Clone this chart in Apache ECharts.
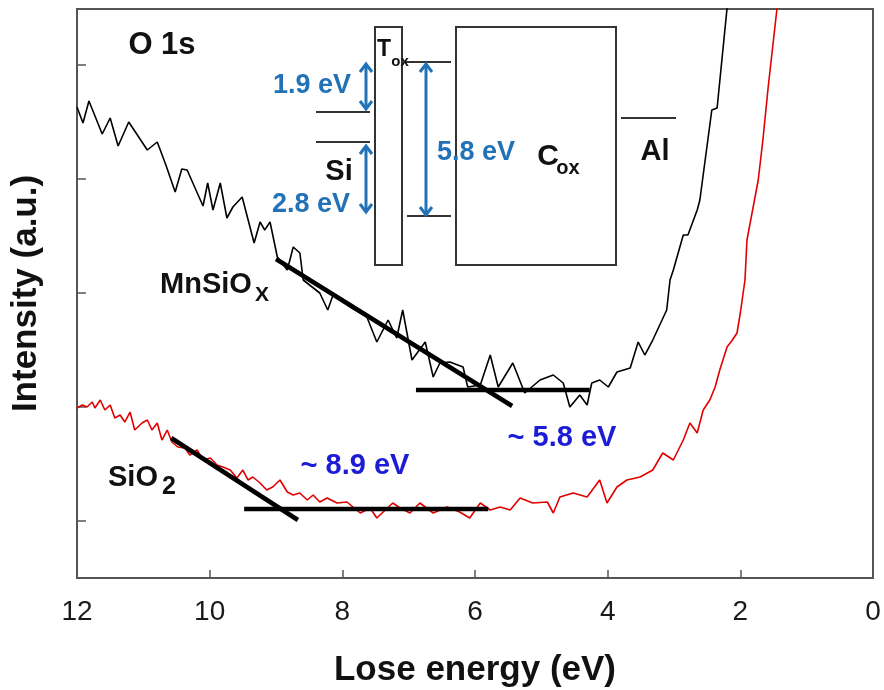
<!DOCTYPE html>
<html lang="en">
<head>
    <meta charset="utf-8">
    <title>O 1s loss spectra</title>
    <script src="https://cdn.jsdelivr.net/npm/echarts@6/dist/echarts.min.js"></script>
    <style>
        html, body { margin: 0; padding: 0; background: #fff; }
        #main { width: 884px; height: 690px; }
    </style>
</head>
<body>
<div id="main"></div>
<script>
    // lose energy (eV) / intensity (a.u.)
    var mnEnergy = [12.00, 11.91, 11.82, 11.62, 11.50, 11.38, 11.22, 10.94, 10.79, 10.66, 10.52, 10.42, 10.34, 10.10,
        10.03, 9.95, 9.84, 9.74, 9.65, 9.51, 9.33, 9.24, 9.17, 9.09, 8.98, 8.83, 8.74, 8.64, 8.59, 8.34, 8.22, 8.14,
        7.88, 7.63, 7.48, 7.31, 7.18, 7.09, 6.95, 6.75, 6.63, 6.53, 6.38, 6.18, 6.11, 5.92, 5.77, 5.65, 5.43, 5.25,
        5.02, 4.82, 4.67, 4.57, 4.42, 4.31, 4.24, 4.12, 3.99, 3.86, 3.66, 3.54, 3.44, 3.32, 3.11, 3.06, 3.01, 2.86,
        2.79, 2.65, 2.61, 2.43, 2.35, 2.17];
    var mnIntensity = [471, 455, 477, 444, 460, 432, 456, 428, 436, 413, 386, 409, 408, 372,
        395, 368, 395, 360, 371, 381, 335, 356, 348, 356, 321, 308, 331, 325, 298, 285, 268, 283,
        271, 261, 236, 258, 240, 268, 218, 236, 201, 215, 216, 211, 191, 193, 223, 191, 215, 185,
        198, 203, 195, 171, 183, 173, 195, 198, 191, 206, 210, 236, 223, 238, 268, 298, 308, 343,
        343, 368, 378, 468, 470, 590];

    var siEnergy = [12.00, 11.92, 11.85, 11.77, 11.73, 11.65, 11.58, 11.50, 11.43, 11.35, 11.28, 11.20, 11.13, 11.02,
        10.94, 10.87, 10.79, 10.72, 10.64, 10.57, 10.48, 10.37, 10.30, 10.19, 10.10, 9.99, 9.89, 9.80, 9.69, 9.59,
        9.50, 9.42, 9.35, 9.24, 9.14, 9.05, 8.94, 8.83, 8.74, 8.64, 8.53, 8.44, 8.34, 8.23, 8.08, 7.93, 7.73, 7.58,
        7.48, 7.24, 7.13, 6.98, 6.83, 6.63, 6.42, 6.23, 6.08, 5.92, 5.77, 5.62, 5.47, 5.32, 5.13, 4.91, 4.82, 4.72,
        4.52, 4.31, 4.12, 4.01, 3.86, 3.71, 3.51, 3.32, 3.17, 3.01, 2.86, 2.76, 2.65, 2.56, 2.46, 2.38, 2.31, 2.20,
        2.12, 2.05, 2.00, 1.93, 1.90, 1.73, 1.66, 1.58, 1.45, 1.42];
    var siIntensity = [170, 173, 171, 176, 170, 178, 168, 173, 160, 163, 156, 166, 148, 155,
        158, 148, 155, 138, 148, 136, 131, 130, 123, 128, 118, 120, 113, 111, 108, 100,
        108, 98, 101, 95, 88, 91, 98, 86, 83, 85, 78, 83, 76, 80, 75, 76, 65, 70,
        60, 75, 70, 65, 75, 65, 71, 66, 60, 75, 68, 71, 68, 80, 75, 76, 65, 81,
        85, 81, 98, 75, 91, 98, 101, 108, 125, 118, 138, 155, 145, 168, 178, 191, 208, 231,
        238, 245, 265, 298, 338, 398, 438, 491, 568, 590];

    // onset construction lines
    var mnSlope = [[9.00, 319], [5.44, 172]];
    var mnBase = [[6.89, 188], [4.27, 188]];
    var siSlope = [[10.58, 140], [8.67, 58]];
    var siBase = [[9.48, 69], [5.80, 69]];

    var yTicks = [57, 171, 285, 399, 513];

    function pairs(xs, ys) {
        var out = [];
        for (var i = 0; i < xs.length; i++) {
            out.push([xs[i], ys[i]]);
        }
        return out;
    }

    var FONT = 'Liberation Sans, Arial, sans-serif';
    var BLUE = '#2272b8';
    var DEEP = '#1c1cd6';

    function txt(s, x, y, size, color) {
        return {
            type: 'text', z: 100,
            style: {
                text: s, x: x, y: y,
                font: 'bold ' + size + 'px ' + FONT,
                fill: color || '#111',
                textAlign: 'center', textVerticalAlign: 'middle',
                align: 'center', verticalAlign: 'middle'
            }
        };
    }

    function seg(x1, y1, x2, y2, color, w) {
        return {
            type: 'line', z: 100,
            shape: {x1: x1, y1: y1, x2: x2, y2: y2},
            style: {stroke: color || '#333', lineWidth: w || 2}
        };
    }

    // vertical double arrow
    function arrow(x, y1, y2) {
        return [
            seg(x, y1 + 1, x, y2 - 1, BLUE, 3),
            {type: 'polyline', z: 100, shape: {points: [[x - 6, y1 + 9], [x, y1 + 1], [x + 6, y1 + 9]]},
                style: {stroke: BLUE, lineWidth: 3, fill: null}},
            {type: 'polyline', z: 100, shape: {points: [[x - 6, y2 - 9], [x, y2 - 1], [x + 6, y2 - 9]]},
                style: {stroke: BLUE, lineWidth: 3, fill: null}}
        ];
    }

    var graphics = [
        txt('O 1s', 162, 45, 31),
        txt('MnSiO', 206, 285, 29),
        txt('X', 262, 295, 21),
        txt('SiO', 133, 478, 29),
        txt('2', 169, 487, 25),
        txt('~ 8.9 eV', 355, 466, 29, DEEP),
        txt('~ 5.8 eV', 562, 438, 29, DEEP),
        // band diagram inset
        {type: 'rect', z: 99, shape: {x: 375, y: 27, width: 27, height: 238},
            style: {stroke: '#333', lineWidth: 2, fill: '#fff'}},
        {type: 'rect', z: 99, shape: {x: 456, y: 27, width: 160, height: 238},
            style: {stroke: '#333', lineWidth: 2, fill: '#fff'}},
        seg(316, 112, 370, 112),
        seg(316, 142, 370, 142),
        seg(406, 62, 451, 62),
        seg(407, 216, 451, 216),
        seg(621, 118, 676, 118),
        txt('T', 384, 50, 23),
        txt('ox', 400, 62, 15),
        txt('Si', 339, 172, 29),
        txt('Al', 655, 152, 29),
        txt('C', 548, 157, 30),
        txt('ox', 568, 168, 20),
        txt('1.9 eV', 312, 86, 27, BLUE),
        txt('2.8 eV', 311, 205, 27, BLUE),
        txt('5.8 eV', 476, 153, 27, BLUE)
    ].concat(arrow(366, 63, 110), arrow(366, 145, 213), arrow(426, 63, 216));

    var myChart = echarts.init(document.getElementById('main'));
    var option = {
        animation: false,
        backgroundColor: '#fff',
        grid: {
            left: 77, right: 11, top: 9, bottom: 112,
            containLabel: false, outerBoundsMode: 'none',
            show: true, borderColor: '#555', borderWidth: 2
        },
        xAxis: {
            type: 'value', inverse: true,
            min: 0, max: 12, interval: 2,
            name: 'Lose energy (eV)',
            nameLocation: 'middle', nameGap: 75,
            nameTextStyle: {fontSize: 35, fontWeight: 'bold', color: '#111', fontFamily: FONT},
            axisLine: {show: true, onZero: false, lineStyle: {color: '#555', width: 2}},
            axisTick: {show: true, inside: true, length: 8, lineStyle: {color: '#555', width: 1.5}},
            axisLabel: {fontSize: 28, color: '#1a1a1a', margin: 20, fontFamily: FONT},
            splitLine: {show: false}
        },
        yAxis: {
            type: 'value', min: 0, max: 569,
            name: 'Intensity (a.u.)',
            nameLocation: 'middle', nameGap: 33,
            nameTextStyle: {fontSize: 35, fontWeight: 'bold', color: '#111', fontFamily: FONT},
            axisLine: {show: true, onZero: false, lineStyle: {color: '#555', width: 2}},
            axisTick: {show: true, inside: true, length: 9, customValues: yTicks,
                lineStyle: {color: '#555', width: 1.5}},
            axisLabel: {show: false},
            splitLine: {show: false}
        },
        series: [
            {
                name: 'MnSiOx', type: 'line', data: pairs(mnEnergy, mnIntensity),
                showSymbol: false, symbol: 'none', clip: true,
                lineStyle: {color: '#000', width: 1.6}
            },
            {
                name: 'SiO2', type: 'line', data: pairs(siEnergy, siIntensity),
                showSymbol: false, symbol: 'none', clip: true,
                lineStyle: {color: '#e00000', width: 1.6}
            },
            {type: 'line', data: mnSlope, symbol: 'none', z: 5, lineStyle: {color: '#000', width: 4.5}},
            {type: 'line', data: mnBase, symbol: 'none', z: 5, lineStyle: {color: '#000', width: 4.5}},
            {type: 'line', data: siSlope, symbol: 'none', z: 5, lineStyle: {color: '#000', width: 4.5}},
            {type: 'line', data: siBase, symbol: 'none', z: 5, lineStyle: {color: '#000', width: 4.5}}
        ],
        graphic: graphics
    };
    myChart.setOption(option);
</script>
</body>
</html>
